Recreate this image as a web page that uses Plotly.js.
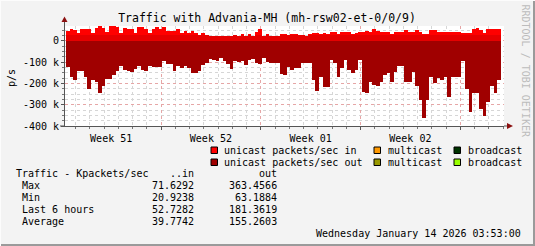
<!DOCTYPE html>
<html><head><meta charset="utf-8">
<script src="https://cdn.plot.ly/plotly-3.0.1.min.js"></script>
<style>html,body{margin:0;padding:0;background:#f3f3f3;}#chart{width:535px;height:246px;}</style>
</head><body><div id="chart"></div>
<script>
// ---- data ----
const startTime = Date.UTC(2025, 11, 15, 8, 0, 0);   // first 6-hour sample
const stepHours = 6;
// unicast packets/sec in (Kpps)
const unicastIn = [46,54,49,38,54,54,57,38,60,71.6,60,41,69,70,63,38,60,54,54,38,
  63,66,57,38,57,63,54,63,47,47,47,54,38,47,38,47,38,28,38,28,
  21,25,25,25,25,25,25,28,22,32,25,32,25,44,54,
  25,33,25,25,25,32,32,28,32,32,28,28,25,32,38,38,32,38,32,41,
  44,32,41,44,41,32,38,41,41,47,44,57,47,44,44,41,32,44,41,41,
  51,44,44,51,44,32,32,51,51,41,41,41,41,41,41,41,38,38,38,57,
  60,51,38,54,54,54,54];
// unicast packets/sec out (Kpps)
const unicastOut = [125,170,186,140,143,172,226,183,191,246,210,177,180,160,141,120,136,140,145,133,
  120,137,140,120,125,125,121,96,108,109,141,120,128,120,128,152,150,141,112,104,
  85,92,96,80,96,110,133,96,101,96,112,92,85,104,109,
  80,101,104,104,104,155,160,125,139,128,128,104,104,104,183,234,171,218,218,88,
  104,171,128,88,136,152,136,92,239,243,191,207,212,191,160,152,191,144,117,117,
  191,191,144,212,278,363,278,171,199,175,183,171,262,171,171,171,96,227,333,246,
  243,318,355,286,212,243,183];
const yTickVals = [0, -100000, -200000, -300000, -400000];
const yTickText = ['0', '-100 k', '-200 k', '-300 k', '-400 k'];
const legendRow1 = ['unicast packets/sec in', 'multicast', 'broadcast'];
const legendRow2 = ['unicast packets/sec out', 'multicast', 'broadcast'];
const legendColors1 = ['#ff0000', '#ff9900', '#003300'];
const legendColors2 = ['#a00000', '#999900', '#99ff00'];
const statHeader = ['Traffic - Kpackets/sec', '..in', 'out'];
const statRows = ['Max', 'Min', 'Last 6 hours', 'Average'];
const statIn = ['71.6292', '20.9238', '52.7282', '39.7742'];
const statOut = ['363.4566', '63.1884', '181.3619', '155.2603'];
const titleText = 'Traffic with Advania-MH (mh-rsw02-et-0/0/9)';
const footerText = 'Wednesday January 14 2026 03:53:00';
const watermark = 'RRDTOOL / TOBI OETIKER';

// ---- build ----
const stepMs = stepHours * 3600 * 1000;
const times = unicastIn.map((_, i) => startTime + i * stepMs);
const BAND = 28; // darker band near zero in the "in" area
const FONT = 'DejaVu Sans Mono';

const common = {type: 'bar', x: times, width: stepMs, offset: 0, hoverinfo: 'skip', showlegend: false};
const traces = [
  Object.assign({}, common, {y: unicastOut.map(v => -v * 1000), marker: {color: '#a00000', line: {width: 0}}}),
  Object.assign({}, common, {y: unicastIn.map(v => v * 1000), marker: {color: '#ff0000', line: {width: 0}}}),
  Object.assign({}, common, {y: unicastIn.map(v => Math.min(v, BAND) * 1000), marker: {color: '#e60000', line: {width: 0}}})
];

// pixel -> paper helpers (plot area: x 65..504, y 26..126)
const L = 65, R = 504, T = 26, B = 126;
const px = x => (x - L) / (R - L);
const py = y => (B - y) / (B - T);

const annotations = [];
function txt(text, x, y, anchor, opts) {
  annotations.push(Object.assign({
    text: text, x: px(x), y: py(y), xref: 'paper', yref: 'paper',
    xanchor: anchor, yanchor: 'middle', showarrow: false, borderpad: 0,
    font: {family: FONT, size: 10, color: '#000'}
  }, opts || {}));
}
const shapes = [];
function box(x0, y0, x1, y1, color) {
  shapes.push({type: 'rect', xref: 'paper', yref: 'paper', x0: px(x0), x1: px(x1), y0: py(y0), y1: py(y1),
    fillcolor: color, line: {color: '#000', width: 1}});
}

// legend
const legX = [211, 374, 454];
const legTX = [222.5, 387, 467];
legendRow1.forEach((t, i) => { box(legX[i], 147, legX[i] + 6.5, 153.5, legendColors1[i]); txt(t, legTX[i], 150.5, 'left'); });
legendRow2.forEach((t, i) => { box(legX[i], 159, legX[i] + 6.5, 165.5, legendColors2[i]); txt(t, legTX[i], 162.5, 'left'); });

// stats table
txt(statHeader[0], 15, 173.5, 'left');
txt(statHeader[1], 194.5, 173.5, 'right');
txt(statHeader[2], 277.5, 173.5, 'right');
const rowY = [185.5, 197.5, 209.5, 221.5];
statRows.forEach((r, i) => {
  txt(r, 20.5, rowY[i], 'left');
  txt(statIn[i], 194.5, rowY[i], 'right');
  txt(statOut[i], 277.5, rowY[i], 'right');
});
txt(footerText, 521.5, 233.5, 'right');
txt('p/s', 11.5, 78.5, 'center', {textangle: -90});
txt(watermark, 525.5, 71, 'center', {textangle: 90, font: {family: FONT, size: 10, color: '#bcbcbc'}});

// axis arrows and extensions
shapes.push({type: 'line', xref: 'paper', yref: 'paper', x0: px(64.5), x1: px(64.5), y0: py(26), y1: py(21), line: {color: '#555', width: 1}});
shapes.push({type: 'path', xref: 'paper', yref: 'paper', path: `M ${px(61.5)} ${py(22)} L ${px(67.5)} ${py(22)} L ${px(64.5)} ${py(16.5)} Z`, fillcolor: '#8b1010', line: {width: 0}});
shapes.push({type: 'line', xref: 'paper', yref: 'paper', x0: px(504), x1: px(508), y0: py(126), y1: py(126), line: {color: '#555', width: 1}});
shapes.push({type: 'path', xref: 'paper', yref: 'paper', path: `M ${px(507)} ${py(123)} L ${px(507)} ${py(129)} L ${px(513)} ${py(126)} Z`, fillcolor: '#8b1010', line: {width: 0}});
shapes.push({type: 'line', xref: 'paper', yref: 'paper', x0: px(60), x1: px(65), y0: py(126), y1: py(126), line: {color: '#555', width: 1}});
// frame
shapes.push({type: 'line', xref: 'paper', yref: 'paper', x0: px(0), x1: px(535), y0: py(245), y1: py(245), line: {color: '#9a9a9a', width: 2}});
shapes.push({type: 'line', xref: 'paper', yref: 'paper', x0: px(534), x1: px(534), y0: py(0), y1: py(246), line: {color: '#9a9a9a', width: 2}});
shapes.push({type: 'line', xref: 'paper', yref: 'paper', x0: px(0), x1: px(535), y0: py(0.5), y1: py(0.5), line: {color: '#fcfcfc', width: 1}});
shapes.push({type: 'line', xref: 'paper', yref: 'paper', x0: px(0.5), x1: px(0.5), y0: py(0), y1: py(246), line: {color: '#fcfcfc', width: 1}});

const layout = {
  width: 535, height: 246,
  margin: {l: L, r: 535 - R, t: T, b: 246 - B, pad: 0},
  paper_bgcolor: '#f3f3f3', plot_bgcolor: '#ffffff',
  font: {family: FONT, size: 10, color: '#000'},
  title: {text: titleText, font: {family: FONT, size: 11.5, color: '#000'},
    x: 267 / 535, xref: 'container', xanchor: 'center', y: 1 - 17.5 / 246, yref: 'container', yanchor: 'middle'},
  barmode: 'overlay', bargap: 0,
  xaxis: {
    type: 'date', range: ['2025-12-15 06:14', '2026-01-15 01:40'],
    tick0: '2025-12-15', dtick: 7 * 86400000, ticklabelmode: 'period', tickformat: 'Week %V',
    showgrid: true, gridcolor: '#e6a6a6', griddash: 'dot', gridwidth: 1,
    ticks: 'outside', ticklen: 3, tickcolor: '#555',
    showline: true, linecolor: '#555', linewidth: 1,
    tickfont: {family: FONT, size: 10, color: '#000'},
    minor: {dtick: 86400000, tick0: '2025-12-15', showgrid: true, gridcolor: '#d6d6d6', griddash: 'dot', ticks: 'outside', ticklen: 2, tickcolor: '#777'},
    zeroline: false, fixedrange: true
  },
  yaxis: {
    range: [-400000, 70000], tickvals: yTickVals, ticktext: yTickText,
    showgrid: true, gridcolor: '#e6a6a6', griddash: 'dot', gridwidth: 1,
    ticks: 'outside', ticklen: 3, tickcolor: '#555',
    showline: true, linecolor: '#555', linewidth: 1,
    tickfont: {family: FONT, size: 10, color: '#000'},
    minor: {dtick: 25000, tick0: 0, showgrid: true, gridcolor: '#d6d6d6', griddash: 'dot', ticks: 'outside', ticklen: 2, tickcolor: '#777'},
    zeroline: false, fixedrange: true
  },
  annotations: annotations, shapes: shapes, showlegend: false
};
Plotly.newPlot('chart', traces, layout, {staticPlot: true, displayModeBar: false});
</script></body></html>
